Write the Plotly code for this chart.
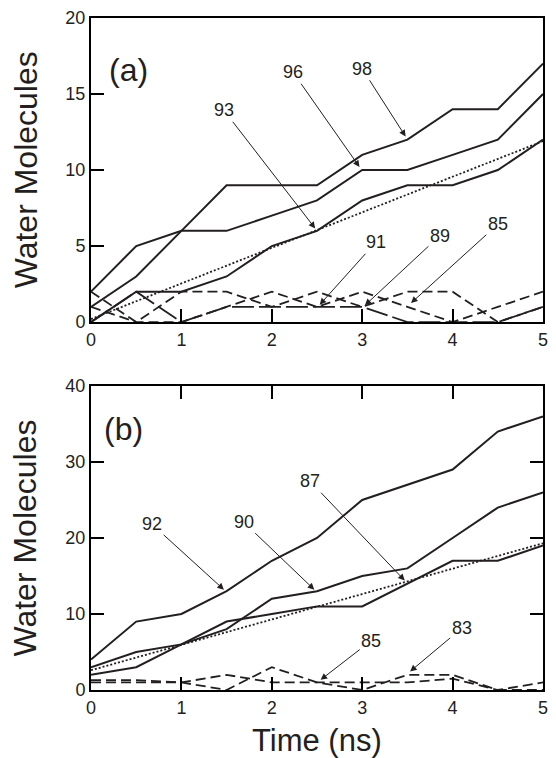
import plotly.graph_objects as go

# ---------------- data ----------------
time_ns = [0, 0.5, 1, 1.5, 2, 2.5, 3, 3.5, 4, 4.5, 5]

# panel (a)
a_98 = [1, 3, 6, 9, 9, 9, 11, 12, 14, 14, 17]
a_96 = [2, 5, 6, 6, 7, 8, 10, 10, 11, 12, 15]
a_93 = [0, 2, 2, 3, 5, 6, 8, 9, 9, 10, 12]
a_91 = [0, 2, 0, 1, 1, 1, 1, 0, 0, 0, 1]
a_89 = [2, 0, 2, 2, 1, 2, 1, 2, 2, 0, 1]
a_85 = [1, 0, 0, 1, 2, 1, 2, 1, 0, 1, 2]
a_fit_x = [0, 5]
a_fit_y = [0.2, 11.9]

# panel (b)
b_92 = [4, 9, 10, 13, 17, 20, 25, 27, 29, 34, 36]
b_90 = [3, 5, 6, 8, 12, 13, 15, 16, 20, 24, 26]
b_87 = [2, 3, 6, 9, 10, 11, 11, 14, 17, 17, 19]
b_85 = [1.3, 1.3, 1, 2, 1, 1, 1, 1, 1.5, 0, 1]
b_83 = [1, 1, 1, 0, 3, 1, 0, 2, 2, 0, 0]
b_fit_x = [0, 5]
b_fit_y = [2.6, 19.3]

# labels: (text, tip_x, tip_y, text_x, text_y)
a_labels = [
    ("96", 2.97, 10.2, 2.235, 16.43),
    ("98", 3.48, 12.2, 3.0, 16.66),
    ("93", 2.48, 6.16, 1.47, 13.93),
    ("91", 2.53, 1.14, 3.15, 5.25),
    ("89", 3.03, 1.1, 3.86, 5.69),
    ("85", 3.54, 1.25, 4.50, 6.43),
]
b_labels = [
    ("92", 1.47, 13.2, 0.677, 21.78),
    ("90", 2.47, 13.2, 1.689, 22.08),
    ("87", 3.47, 14.4, 2.424, 27.46),
    ("85", 2.54, 1.34, 3.10, 6.49),
    ("83", 3.53, 2.44, 4.10, 8.11),
]

INK = "#231f20"
FONT = "Liberation Sans"

fig = go.Figure()

def add_line(x, y, xa, ya, dash="solid", width=2.0):
    fig.add_trace(go.Scatter(x=x, y=y, mode="lines", xaxis=xa, yaxis=ya,
                             line=dict(color=INK, width=width, dash=dash),
                             showlegend=False))

DASH = "10px,5px"
LONG = "22px,5px"
DOT = "2px,2px"

# panel (a)
add_line(a_fit_x, a_fit_y, "x", "y", DOT, 1.8)
for s in (a_98, a_96, a_93):
    add_line(time_ns, s, "x", "y")
add_line(time_ns, a_91, "x", "y", LONG, 1.8)
add_line(time_ns, a_89, "x", "y", DASH, 1.8)
add_line(time_ns, a_85, "x", "y", DASH, 1.8)

# panel (b)
add_line(b_fit_x, b_fit_y, "x2", "y2", DOT, 1.8)
for s in (b_92, b_90, b_87):
    add_line(time_ns, s, "x2", "y2")
add_line(time_ns, b_85, "x2", "y2", DASH, 1.8)
add_line(time_ns, b_83, "x2", "y2", DASH, 1.8)

annotations = []
for (t, x, y, tx, ty), (xr, yr) in [(l, ("x", "y")) for l in a_labels] + [(l, ("x2", "y2")) for l in b_labels]:
    annotations.append(dict(text=t, x=x, y=y, ax=tx, ay=ty, xref=xr, yref=yr,
                            axref=xr, ayref=yr, showarrow=True, arrowhead=2,
                            arrowsize=1.3, arrowwidth=1, arrowcolor=INK,
                            standoff=0, startstandoff=0,
                            font=dict(size=18)))

annotations.append(dict(text="(a)", x=0.42, y=16.55, xref="x", yref="y", showarrow=False,
                        font=dict(size=32)))
annotations.append(dict(text="(b)", x=0.36, y=34.3, xref="x2", yref="y2", showarrow=False,
                        font=dict(size=32)))

# axis titles
annotations.append(dict(text="Water Molecules", x=-0.145, y=0.774, xref="paper", yref="paper",
                        textangle=-90, showarrow=False, xanchor="center", yanchor="middle",
                        font=dict(size=32)))
annotations.append(dict(text="Water Molecules", x=-0.145, y=0.226, xref="paper", yref="paper",
                        textangle=-90, showarrow=False, xanchor="center", yanchor="middle",
                        font=dict(size=32)))
annotations.append(dict(text="Time (ns)", x=0.5, y=-0.075, xref="paper", yref="paper",
                        showarrow=False, xanchor="center", yanchor="middle",
                        font=dict(size=31)))

def ax(**kw):
    d = dict(showline=True, linecolor="black", linewidth=2, ticks="inside",
             ticklen=13, tickwidth=2, tickcolor="black")
    d.update(kw)
    return d

fig.update_layout(
    width=556, height=758,
    margin=dict(l=91, r=8, t=16, b=68),
    plot_bgcolor="white",
    font=dict(family=FONT, size=18, color=INK),
    annotations=annotations,
    xaxis=ax(domain=[0, 1], range=[0, 5], nticks=6, anchor="y", mirror=True),
    yaxis=ax(domain=[0.5475, 1], range=[0, 20], nticks=5, anchor="x", mirror=True),
    xaxis2=ax(domain=[0, 1], range=[0, 5], nticks=6, anchor="y2", mirror="ticks"),
    yaxis2=ax(domain=[0, 0.4525], range=[0, 40], nticks=5, anchor="x2", mirror="ticks"),
)

fig.write_html("out.html")
